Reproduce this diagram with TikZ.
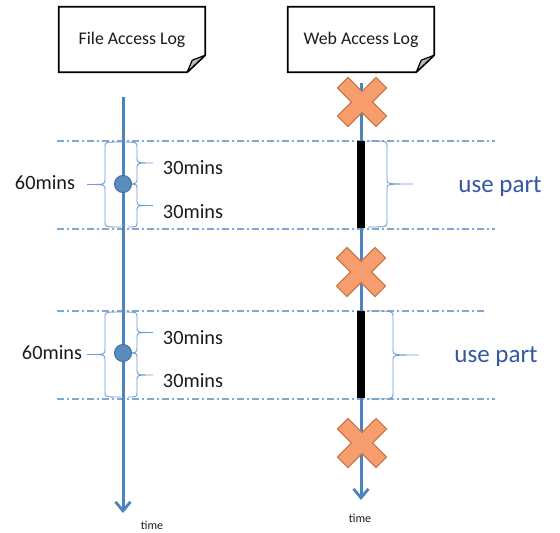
\documentclass[tikz,border=0pt]{standalone}
\usepackage{fontspec}
\setmainfont{Carlito}
\usetikzlibrary{arrows.meta,calc}

\definecolor{tline}{HTML}{4A85BE}
\definecolor{guide}{HTML}{7FA8D3}
\definecolor{bracecol}{HTML}{6E9DD0}
\definecolor{xfill}{HTML}{F89E6E}
\definecolor{xedge}{HTML}{C9784A}
\definecolor{dotfill}{HTML}{5A8CBF}
\definecolor{dotedge}{HTML}{41719C}
\definecolor{usecol}{HTML}{3556A6}
\definecolor{ink}{HTML}{1A1A1A}

% curly brace: hook x, stem x, tip x, top y, bottom y
\newcommand{\curlybr}[5]{%
  \draw[brc] ({#1},{#4}) .. controls ({#2},{#4}) .. ({#2},{#4+5})
    -- ({#2},{(#4+#5)/2-5}) .. controls ({#2},{(#4+#5)/2}) .. ({#3},{(#4+#5)/2})
    .. controls ({#2},{(#4+#5)/2}) .. ({#2},{(#4+#5)/2+5})
    -- ({#2},{#5-5}) .. controls ({#2},{#5}) .. ({#1},{#5});}

\tikzset{
  doclabel/.style={minimum width=146pt,minimum height=65pt,inner sep=0pt,
    text=ink,font=\fontsize{17.8}{21}\selectfont},
  docedge/.style={draw=black,line width=1.8pt,line join=miter},
  timeline/.style={draw=tline,line width=3pt,-{Straight Barb[length=9pt,width=15pt,line width=2.8pt]}},
  guideline/.style={draw=guide,line width=1.1pt,dash pattern=on 7pt off 3pt on 2pt off 3pt},
  brc/.style={draw=bracecol,line width=0.9pt},
  dotmark/.style={circle,minimum size=17pt,inner sep=0pt,fill=dotfill,draw=dotedge,line width=1pt},
  minlabel/.style={text=ink,font=\fontsize{20.3}{24}\selectfont,inner sep=0pt},
  uselabel/.style={text=usecol,font=\fontsize{25}{30}\selectfont,inner sep=0pt},
  timelabel/.style={text=ink,font=\fontsize{12}{14}\selectfont,inner sep=0pt},
  usebar/.style={fill=black},
  xmark/.pic={\filldraw[fill=xfill,draw=xedge,line width=1.2pt]
    (0,-10.5) -- (14.1,-24.5) -- (24.5,-14.1) -- (10.5,0) -- (24.5,14.1) -- (14.1,24.5)
    -- (0,10.5) -- (-14.1,24.5) -- (-24.5,14.1) -- (-10.5,0) -- (-24.5,-14.1) -- (-14.1,-24.5) -- cycle;}
}

\begin{document}
\begin{tikzpicture}[x=1pt,y=-1pt]
\useasboundingbox (0,0) rectangle (560,533);

% log documents with folded corner
\node[doclabel] (fal) at (132,39.5) {File Access Log};
\node[doclabel] (wal) at (361,39.5) {Web Access Log};
\foreach \d in {fal,wal}{
  \draw[docedge] (\d.north west) -- (\d.north east) -- ($(\d.south east)+(0,-17)$)
    -- ($(\d.south east)+(-18,0)$) -- (\d.south west) -- cycle;
  \filldraw[fill=gray!55,draw=black,line width=1.2pt,line join=round]
    ($(\d.south east)+(0,-17)$) -- ($(\d.south east)+(-13,-12)$) -- ($(\d.south east)+(-18,0)$) -- cycle;
}

% hour window guides
\draw[guideline] (57,141) -- (495,141);
\draw[guideline] (57,229) -- (495,229);
\draw[guideline] (57,311) -- (485,311);
\draw[guideline] (57,399) -- (495,399);

% time axes
\coordinate (ltop) at (123,97);
\coordinate (lend) at (123,513);
\coordinate (rtop) at (361,83);
\coordinate (rend) at (361,500);
\draw[timeline] (ltop) -- (lend);
\draw[timeline] (rtop) -- (rend);
\node[timelabel] (tl) at (152,525) {time};
\node[timelabel] (tr) at (360,518) {time};

% braces on the file log side
\curlybr{121}{105}{87}{142}{227}
\curlybr{121}{137}{153}{142}{184}
\curlybr{128}{137}{153}{184}{227}
\curlybr{121}{105}{87}{312}{397}
\curlybr{121}{137}{153}{312}{353}
\curlybr{128}{137}{153}{353}{397}

\node[dotmark] (d1) at (123,184) {};
\node[dotmark] (d2) at (123,353) {};

\node[minlabel] (s1) at (45,183) {60mins};
\node[minlabel] (a1) at (193,168) {30mins};
\node[minlabel] (b1) at (193,212) {30mins};
\node[minlabel] (s2) at (52,353) {60mins};
\node[minlabel] (a2) at (193,338) {30mins};
\node[minlabel] (b2) at (193,381) {30mins};

% used parts of the web log
\fill[usebar] (357,141) rectangle (365,228);
\fill[usebar] (357,311) rectangle (365,398);
\curlybr{368}{387}{413}{141}{227}
\curlybr{368}{393}{419}{311}{399}
\node[uselabel] (u1) at (500,187) {use part};
\node[uselabel] (u2) at (496,357) {use part};

% unused gaps
\pic at (362,102) {xmark};
\pic at (361,272) {xmark};
\pic at (362,443) {xmark};
\end{tikzpicture}
\end{document}
